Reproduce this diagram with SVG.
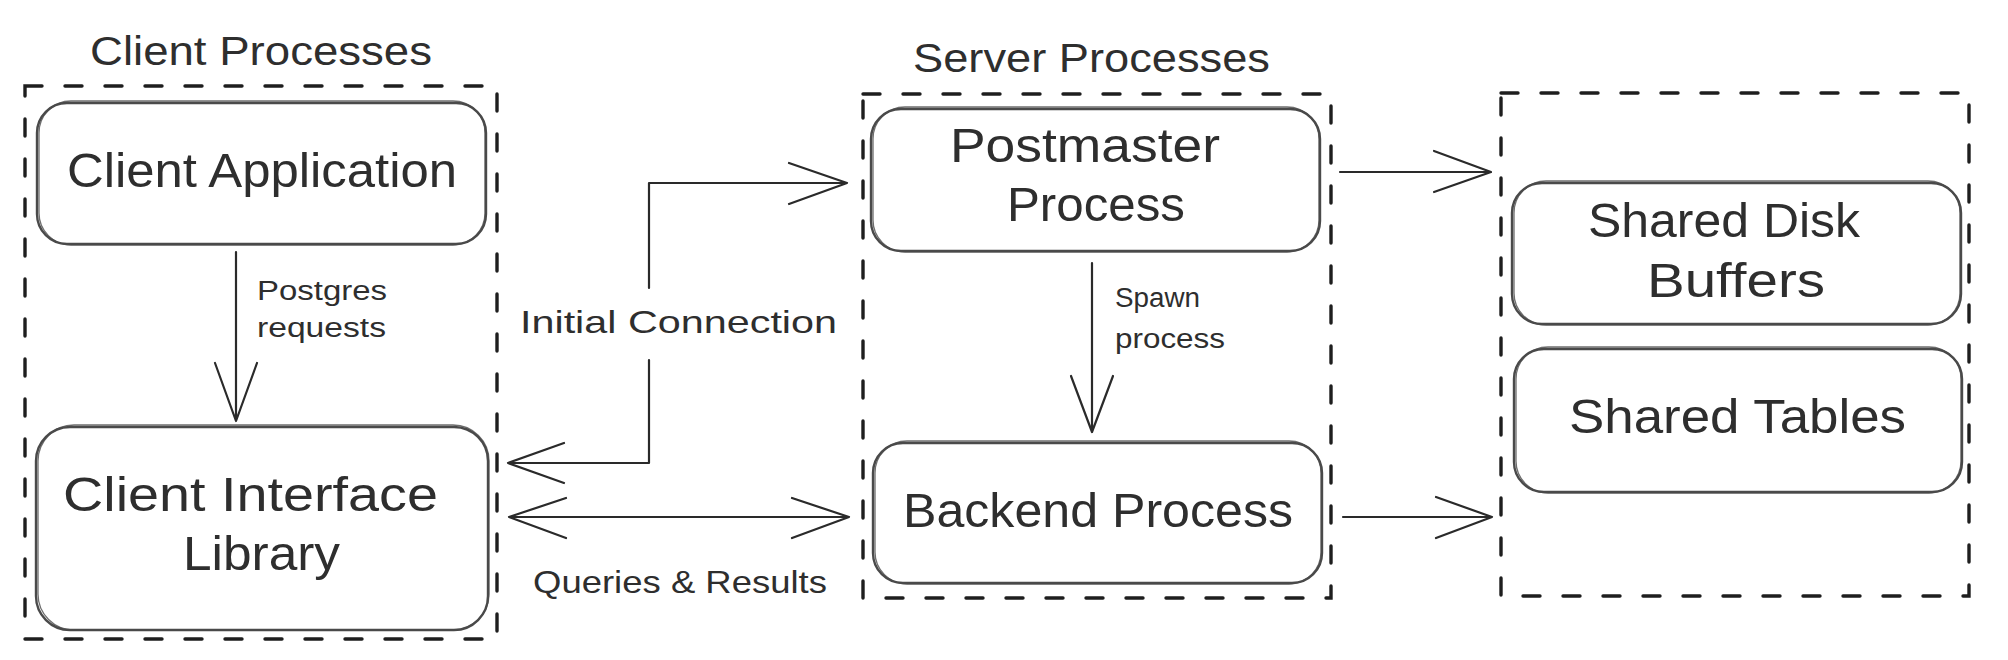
<svg xmlns="http://www.w3.org/2000/svg" width="2008" height="660" viewBox="0 0 2008 660">
<style>
text{font-family:"Liberation Sans","DejaVu Sans",sans-serif;fill:#2e2e2e}
.dash{fill:none;stroke:#1e1e1e;stroke-width:3.4;stroke-dasharray:17 23;stroke-linecap:round}
.box{fill:none;stroke:#4a4a4a;stroke-width:2.4}
.box2{fill:none;stroke:#4a4a4a;stroke-width:1.3;opacity:.8}
.con{fill:none;stroke:#2a2a2a;stroke-width:2.2;stroke-linecap:round;stroke-linejoin:round}
.title{font-size:40px}
.big{font-size:48px}
.lbl{font-size:32px}
.sm{font-size:27px}
</style>
<rect width="2008" height="660" fill="#ffffff"/>

<g id="client-processes">
<rect class="dash" x="25" y="86" width="472" height="553"/>
<text class="title" x="90" y="65" textLength="342" lengthAdjust="spacingAndGlyphs">Client Processes</text>
</g>
<g id="server-processes">
<rect class="dash" x="863" y="94" width="468" height="504"/>
<text class="title" x="913" y="72" textLength="357" lengthAdjust="spacingAndGlyphs">Server Processes</text>
</g>
<g id="shared-memory">
<rect class="dash" x="1501" y="93" width="468" height="503"/>
</g>

<g id="client-application">
<rect class="box" x="37" y="103" width="449" height="141" rx="30"/>
<rect class="box2" x="39" y="101" width="446" height="144" rx="32"/>
<text class="big" x="67" y="187" font-size="50" textLength="390" lengthAdjust="spacingAndGlyphs">Client Application</text>
</g>
<g id="client-interface-library">
<rect class="box" x="36" y="427" width="452" height="203" rx="34"/>
<rect class="box2" x="38" y="425" width="451" height="205" rx="36"/>
<text class="big" x="63" y="511" font-size="45" textLength="375" lengthAdjust="spacingAndGlyphs">Client Interface</text>
<text class="big" x="183" y="570" font-size="45" textLength="157" lengthAdjust="spacingAndGlyphs">Library</text>
</g>
<g id="postmaster-process">
<rect class="box" x="871" y="109" width="449" height="142" rx="30"/>
<rect class="box2" x="873" y="107" width="446" height="145" rx="32"/>
<text class="big" x="950" y="162" font-size="44" textLength="270" lengthAdjust="spacingAndGlyphs">Postmaster</text>
<text class="big" x="1007" y="221" font-size="44" textLength="178" lengthAdjust="spacingAndGlyphs">Process</text>
</g>
<g id="backend-process">
<rect class="box" x="873" y="443" width="449" height="140" rx="30"/>
<rect class="box2" x="875" y="441" width="446" height="143" rx="32"/>
<text class="big" x="903" y="527" font-size="50" textLength="390" lengthAdjust="spacingAndGlyphs">Backend Process</text>
</g>
<g id="shared-disk-buffers">
<rect class="box" x="1512" y="183" width="449" height="141" rx="30"/>
<rect class="box2" x="1514" y="181" width="446" height="144" rx="32"/>
<text class="big" x="1588" y="237" font-size="44" textLength="272" lengthAdjust="spacingAndGlyphs">Shared Disk</text>
<text class="big" x="1647" y="297" font-size="44" textLength="178" lengthAdjust="spacingAndGlyphs">Buffers</text>
</g>
<g id="shared-tables">
<rect class="box" x="1514" y="349" width="448" height="143" rx="30"/>
<rect class="box2" x="1516" y="347" width="445" height="146" rx="32"/>
<text class="big" x="1569" y="433" font-size="44" textLength="337" lengthAdjust="spacingAndGlyphs">Shared Tables</text>
</g>

<g id="connectors">
<path class="con" d="M236 252 V421 M215 363 L236 421 L257 363"/>
<text class="sm" x="257" y="300" textLength="130" lengthAdjust="spacingAndGlyphs">Postgres</text>
<text class="sm" x="257" y="337" textLength="129" lengthAdjust="spacingAndGlyphs">requests</text>

<path class="con" d="M649 288 V183 H847 M789 163 L847 183 L789 204"/>
<path class="con" d="M649 360 V463 H508 M564 443 L508 463 L564 483"/>
<text class="lbl" x="520" y="333" textLength="317" lengthAdjust="spacingAndGlyphs">Initial Connection</text>

<path class="con" d="M509 517 H849 M566 498 L509 517 L566 538 M792 498 L849 517 L792 538"/>
<text class="lbl" x="533" y="593" font-size="29" textLength="294" lengthAdjust="spacingAndGlyphs">Queries &amp; Results</text>

<path class="con" d="M1092 263 V432 M1071 376 L1092 432 L1113 376"/>
<text class="sm" x="1115" y="307" font-size="25" textLength="85" lengthAdjust="spacingAndGlyphs">Spawn</text>
<text class="sm" x="1115" y="348" font-size="25" textLength="110" lengthAdjust="spacingAndGlyphs">process</text>

<path class="con" d="M1340 172 H1491 M1434 151 L1491 172 L1434 192"/>
<path class="con" d="M1343 517 H1492 M1436 497 L1492 517 L1436 538"/>
</g>
</svg>
